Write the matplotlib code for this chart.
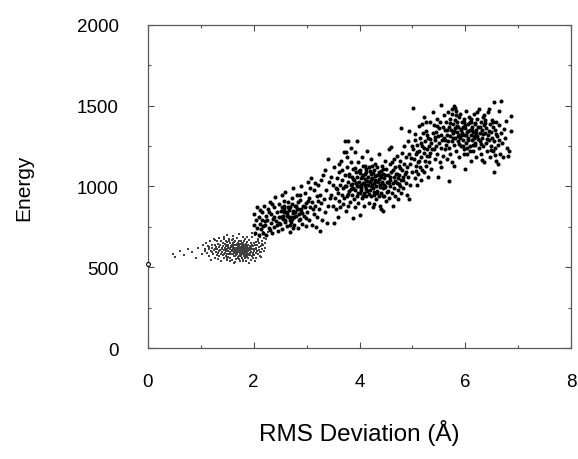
import matplotlib.pyplot as plt
from matplotlib.ticker import MultipleLocator

plt.rcParams['font.family'] = ['Liberation Sans', 'DejaVu Sans']

### 데이터 (RMS 편차, 에너지)

# 저에너지 구름 (작은 점)
low_cloud = [
    (0.47, 582), (0.52, 565), (0.61, 600), (0.68, 575), (0.75, 610), (0.83, 594), (0.90, 560),
    (0.95, 620), (1.02, 585), (1.05, 640),
    (1.08, 610), (1.10, 650), (1.12, 590), (1.13, 630), (1.15, 570), (1.16, 615), (1.18, 660),
    (1.19, 600), (1.20, 545), (1.21, 640), (1.22, 620), (1.23, 580), (1.24, 675), (1.25, 605),
    (1.26, 560), (1.27, 640), (1.28, 595), (1.29, 625), (1.30, 660), (1.30, 575),
    (1.31, 610), (1.32, 550), (1.32, 645), (1.33, 590), (1.34, 625), (1.35, 680), (1.35, 570),
    (1.36, 605), (1.37, 640), (1.38, 585), (1.38, 660), (1.39, 540), (1.40, 615), (1.40, 595),
    (1.41, 650), (1.42, 575), (1.42, 630), (1.43, 605), (1.44, 690), (1.44, 560), (1.45, 620),
    (1.45, 645), (1.46, 590), (1.46, 610), (1.47, 665), (1.47, 570), (1.48, 635), (1.48, 600),
    (1.49, 545), (1.49, 655), (1.50, 615), (1.50, 585), (1.50, 700), (1.51, 625), (1.51, 565),
    (1.52, 640), (1.52, 600), (1.53, 675), (1.53, 580), (1.54, 620),
    (1.55, 595), (1.55, 650), (1.56, 560), (1.56, 610), (1.57, 630), (1.57, 585), (1.58, 670),
    (1.58, 605), (1.59, 545), (1.59, 640), (1.60, 615), (1.60, 580), (1.60, 695), (1.61, 625),
    (1.61, 600), (1.62, 655), (1.62, 570), (1.63, 610), (1.63, 640), (1.64, 590), (1.64, 530),
    (1.65, 620), (1.65, 665), (1.65, 600), (1.66, 575), (1.66, 635), (1.67, 610), (1.67, 550),
    (1.68, 645), (1.68, 595), (1.68, 680), (1.69, 620), (1.69, 585), (1.70, 605), (1.70, 560),
    (1.70, 650), (1.71, 630), (1.71, 595), (1.72, 610), (1.72, 705), (1.72, 570), (1.73, 640),
    (1.73, 600), (1.74, 585), (1.74, 625), (1.74, 540), (1.75, 615), (1.75, 660), (1.75, 595),
    (1.76, 605), (1.76, 575), (1.77, 635), (1.77, 620), (1.77, 590), (1.78, 650), (1.78, 560),
    (1.78, 610), (1.79, 600), (1.79, 685), (1.79, 580), (1.80, 625), (1.80, 595), (1.80, 545),
    (1.81, 640), (1.81, 610), (1.81, 570), (1.82, 600), (1.82, 660), (1.82, 620), (1.83, 585),
    (1.83, 635), (1.83, 555), (1.84, 610), (1.84, 595), (1.84, 675), (1.85, 625), (1.85, 575),
    (1.85, 645), (1.86, 600), (1.86, 540), (1.86, 615), (1.87, 590), (1.87, 655), (1.87, 630),
    (1.88, 605), (1.88, 565), (1.88, 690), (1.89, 620), (1.89, 585), (1.90, 640), (1.90, 600),
    (1.90, 555), (1.91, 615), (1.91, 670), (1.92, 590), (1.92, 630), (1.93, 575), (1.93, 610),
    (1.94, 650), (1.94, 545),
    (1.95, 620), (1.95, 595), (1.96, 640), (1.96, 570), (1.97, 610), (1.97, 685), (1.98, 590),
    (1.98, 630), (1.99, 555), (1.99, 615), (2.00, 650), (2.00, 600), (2.01, 575), (2.02, 635),
    (2.02, 610), (2.03, 700), (2.04, 590), (2.04, 655), (2.05, 620), (2.05, 560), (2.06, 640),
    (2.07, 600), (2.08, 675), (2.08, 580), (2.09, 625), (2.10, 650), (2.10, 605), (2.11, 570),
    (2.12, 690), (2.13, 630), (2.14, 595), (2.15, 660), (2.16, 615), (2.17, 720), (2.18, 640),
    (2.19, 600), (2.20, 680), (2.22, 650), (2.24, 700), (2.27, 720),
    (1.732, 613), (1.684, 588), (1.816, 627), (1.757, 571), (1.643, 618), (1.869, 603),
    (1.791, 652), (1.712, 596), (1.838, 584), (1.664, 637), (1.903, 622), (1.748, 601),
    (1.627, 594), (1.786, 609), (1.853, 642), (1.695, 561), (1.773, 628), (1.921, 589),
    (1.604, 652), (1.829, 566), (1.741, 644), (1.677, 609), (1.886, 576), (1.809, 598),
    (1.719, 662), (1.958, 633), (1.587, 603), (1.764, 582), (1.847, 614), (1.653, 571),
    (1.797, 538), (1.702, 626), (1.937, 607), (1.568, 627), (1.879, 659), (1.723, 548),
    (1.617, 672), (1.994, 578), (2.048, 611), (2.117, 592), (2.083, 663), (2.161, 641),
    (2.207, 618), (2.026, 537), (1.481, 629), (1.436, 583), (1.527, 661), (1.392, 617),
    (1.348, 598), (1.273, 611), (1.214, 593), (1.156, 627), (1.079, 602), (1.493, 557),
    (1.552, 538), (1.429, 673), (2.239, 676), (2.196, 703), (2.143, 565), (1.962, 712),
    (1.907, 524), (1.618, 528), (1.325, 645), (1.268, 671),
]

# 구조 집단 A (RMS 2-3.5)
cluster_a = [
    (2.00, 760), (2.01, 830), (2.03, 715), (2.04, 790), (2.06, 745), (2.07, 870), (2.09, 700),
    (2.10, 810), (2.12, 765), (2.13, 735), (2.15, 845), (2.16, 790), (2.18, 715), (2.19, 880),
    (2.21, 760), (2.23, 820), (2.24, 700), (2.26, 790), (2.27, 860), (2.29, 740), (2.30, 905),
    (2.32, 775), (2.33, 830), (2.35, 715), (2.36, 800), (2.38, 870), (2.39, 750), (2.41, 935),
    (2.42, 785), (2.44, 840), (2.45, 725), (2.47, 810), (2.48, 890), (2.50, 765), (2.51, 850),
    (2.53, 945), (2.54, 735), (2.56, 820), (2.57, 880), (2.59, 790), (2.60, 965), (2.62, 755),
    (2.63, 845), (2.65, 905), (2.66, 810), (2.68, 720), (2.69, 870), (2.71, 780), (2.72, 930),
    (2.74, 835), (2.75, 990), (2.77, 760), (2.78, 880), (2.80, 815), (2.81, 950), (2.83, 740),
    (2.84, 860), (2.86, 795), (2.87, 915), (2.89, 845), (2.90, 1000), (2.92, 770), (2.93, 880),
    (2.95, 820), (2.96, 960), (2.98, 755), (2.99, 900), (3.01, 845), (3.02, 1030), (3.04, 790),
    (3.05, 930), (3.07, 870), (3.08, 1050), (3.10, 760), (3.11, 905), (3.13, 830), (3.14, 980),
    (3.16, 880), (3.17, 750), (3.19, 940), (3.20, 810), (3.22, 1010), (3.23, 860), (3.25, 725),
    (3.26, 950), (3.28, 895), (3.29, 790), (3.31, 1070), (3.32, 920), (3.34, 840), (3.35, 1100),
    (3.37, 980), (3.38, 775), (3.40, 880), (3.41, 1170), (3.43, 1030), (3.44, 930),
    (2.55, 800), (2.62, 830), (2.70, 810), (2.75, 850), (2.58, 860), (2.68, 790), (2.80, 880),
    (2.85, 830), (2.65, 870), (2.72, 800), (2.90, 860), (2.60, 780), (2.78, 845), (2.52, 810),
    (2.88, 800),
    (2.63, 817), (2.81, 862), (2.47, 773), (2.72, 891), (2.58, 842), (2.91, 834), (2.39, 812),
    (2.69, 763), (2.84, 903), (2.53, 876), (2.77, 812), (2.96, 871), (2.44, 759), (2.66, 853),
    (3.03, 912), (2.31, 731), (2.87, 948), (2.57, 913), (2.74, 742), (2.28, 843), (2.17, 758),
    (2.11, 852), (3.12, 862), (3.21, 911), (3.06, 988), (2.98, 802), (2.35, 889), (2.22, 785),
    (3.15, 1023), (3.27, 1040),
]

# 구조 집단 B (RMS 3.5-5.4)
cluster_b = [
    (3.46, 950), (3.47, 1060), (3.49, 880), (3.50, 1010), (3.51, 775), (3.52, 1120), (3.54, 930),
    (3.55, 990), (3.56, 860), (3.58, 1050), (3.59, 960), (3.60, 810), (3.61, 1090), (3.62, 910),
    (3.63, 1010), (3.64, 870), (3.65, 1160), (3.66, 950), (3.67, 1040), (3.68, 890), (3.69, 990),
    (3.70, 1213), (3.71, 930), (3.72, 1070), (3.73, 1282),
    (3.74, 850), (3.75, 1000), (3.75, 1213), (3.76, 940), (3.77, 1120), (3.78, 880), (3.79, 1282),
    (3.79, 1030), (3.80, 970), (3.81, 1080), (3.82, 905), (3.83, 1010), (3.84, 1150), (3.85, 950),
    (3.86, 1060), (3.87, 805), (3.87, 990), (3.88, 1110), (3.89, 920), (3.90, 1040), (3.91, 980),
    (3.92, 1213), (3.92, 870), (3.93, 1090), (3.94, 1020), (3.95, 940), (3.96, 1282), (3.96, 1060),
    (3.97, 1000), (3.98, 900), (3.98, 1150), (3.99, 1030), (4.00, 823), (4.00, 960), (4.01, 1100),
    (4.02, 1050), (4.03, 990), (4.04, 930), (4.05, 1180), (4.06, 1020),
    (4.07, 1070), (4.08, 960), (4.09, 880), (4.10, 1130), (4.10, 1000), (4.11, 1045), (4.12, 940),
    (4.13, 1090), (4.14, 1010), (4.15, 1220), (4.15, 970), (4.16, 1060), (4.17, 900), (4.18, 1120),
    (4.19, 1030), (4.20, 980), (4.21, 1080), (4.22, 940), (4.22, 1170), (4.23, 1010), (4.24, 1050),
    (4.25, 870), (4.26, 990), (4.27, 1100), (4.27, 891), (4.28, 950), (4.29, 1040), (4.30, 1140),
    (4.31, 1000), (4.32, 920), (4.33, 1070), (4.34, 970), (4.35, 1030), (4.36, 1200), (4.36, 940),
    (4.37, 1090), (4.38, 1010), (4.39, 880), (4.40, 860), (4.40, 1060), (4.41, 960), (4.42, 1130),
    (4.43, 1020), (4.44, 990), (4.45, 850), (4.45, 1080), (4.46, 940), (4.47, 1050), (4.48, 1160),
    (4.49, 1000), (4.50, 910), (4.51, 1110), (4.52, 1030), (4.53, 970), (4.54, 1070), (4.55, 1230),
    (4.56, 930), (4.57, 1040), (4.58, 1000), (4.59, 1244),
    (4.60, 1090), (4.61, 960), (4.62, 1150), (4.63, 1020), (4.64, 880), (4.65, 1060), (4.66, 990),
    (4.67, 1120), (4.68, 940), (4.69, 1080), (4.70, 1020), (4.71, 1190), (4.72, 922), (4.72, 1050),
    (4.73, 980), (4.74, 1130), (4.75, 1070), (4.76, 1000), (4.77, 1160), (4.78, 1362), (4.78, 1040),
    (4.79, 960), (4.80, 1100), (4.81, 1210), (4.82, 1060), (4.83, 990), (4.84, 1140), (4.85, 1250),
    (4.86, 1080), (4.87, 1020), (4.88, 1180), (4.89, 950), (4.90, 1120), (4.91, 1280), (4.92, 1060),
    (4.93, 1344), (4.93, 920), (4.94, 1200), (4.95, 1140), (4.96, 1010),
    (5.00, 1090), (5.01, 1230), (5.02, 1486), (5.03, 1170), (5.04, 1050), (5.05, 1290), (5.06, 1130),
    (5.07, 1200), (5.08, 1010), (5.09, 1260), (5.10, 1150), (5.11, 1080), (5.12, 1374), (5.13, 1220),
    (5.14, 1120), (5.15, 1300), (5.16, 1040), (5.17, 1180), (5.18, 1250), (5.19, 1100), (5.20, 1330),
    (5.21, 1090), (5.21, 1430), (5.22, 1210), (5.23, 1160), (5.24, 1280), (5.25, 1344), (5.26, 1130),
    (5.27, 1230), (5.28, 1190), (5.29, 1060), (5.30, 1300), (5.31, 1250), (5.32, 1150), (5.33, 1400),
    (5.34, 1210), (5.35, 1270), (5.36, 1110), (5.38, 1461), (5.39, 1330),
    (4.03, 1012), (4.27, 968), (3.88, 1047), (4.41, 1093), (4.15, 1031), (3.97, 962), (4.33, 1118),
    (4.22, 1004), (4.58, 1057), (3.83, 983), (4.11, 1076), (4.46, 1012), (4.07, 941), (4.36, 1049),
    (4.19, 1097), (3.93, 1024), (4.52, 967), (4.29, 1067), (4.01, 1083), (4.44, 941), (4.13, 987),
    (3.79, 951), (4.63, 1102), (4.24, 1128), (4.38, 996), (4.09, 1021), (3.91, 1112), (4.55, 1021),
    (4.31, 1036), (4.17, 952), (3.86, 1014), (4.48, 1072), (4.05, 1058), (4.26, 1084), (3.99, 1096),
    (4.42, 1028), (4.68, 1036), (4.12, 1109), (4.34, 958), (3.95, 1003), (4.21, 1043), (4.57, 1138),
    (4.03, 977), (4.39, 1074), (4.16, 1012), (3.81, 1066), (4.49, 997), (4.28, 1019), (4.06, 1125),
    (4.45, 1110), (3.72, 1003), (3.66, 1100), (3.58, 985), (3.77, 1180), (3.84, 1240), (3.62, 1140),
    (4.71, 1078), (4.77, 1112), (4.83, 1040), (4.88, 1089), (4.66, 1170), (4.74, 1015),
    (4.97, 1176), (5.08, 1212), (5.16, 1271), (5.04, 1326), (5.22, 1240), (5.28, 1318), (5.13, 1160),
    (5.34, 1296), (4.99, 1248), (5.19, 1385), (5.31, 1189), (5.06, 1098), (5.26, 1402), (5.37, 1232),
    (5.43, 1305), (5.47, 1372),
]

# 구조 집단 D (RMS 5.4-6.9)
cluster_d = [
    (5.40, 1230), (5.41, 1380), (5.42, 1290), (5.43, 1170), (5.44, 1340), (5.45, 1250), (5.46, 1420),
    (5.47, 1200), (5.48, 1310), (5.49, 1060), (5.50, 1360), (5.51, 1270), (5.52, 1150), (5.53, 1400),
    (5.54, 1121), (5.54, 1320), (5.55, 1505), (5.55, 1240), (5.56, 1290), (5.57, 1370), (5.58, 1190),
    (5.59, 1440), (5.60, 1300), (5.61, 1230), (5.62, 1350), (5.63, 1260), (5.64, 1400), (5.65, 1170),
    (5.66, 1320), (5.67, 1280), (5.68, 1460), (5.69, 1034), (5.69, 1370), (5.70, 1240),
    (5.71, 1310), (5.72, 1420), (5.72, 1200), (5.73, 1350), (5.74, 1280), (5.75, 1480), (5.75, 1150),
    (5.76, 1330), (5.77, 1390), (5.78, 1498), (5.78, 1127), (5.79, 1260), (5.80, 1360), (5.81, 1300),
    (5.82, 1440), (5.83, 1220), (5.84, 1340), (5.85, 1400), (5.86, 1280), (5.87, 1370), (5.88, 1320),
    (5.89, 1180), (5.90, 1450), (5.90, 1300), (5.91, 1350), (5.92, 1250), (5.93, 1400), (5.94, 1330),
    (5.95, 1290), (5.96, 1370), (5.97, 1230), (5.98, 1420), (5.99, 1108), (5.99, 1320), (6.00, 1360),
    (6.01, 1270), (6.02, 1470), (6.03, 1340), (6.04, 1200), (6.05, 1390), (6.06, 1300), (6.07, 1430),
    (6.08, 1250), (6.09, 1350), (6.10, 1320), (6.10, 1160),
    (6.11, 1400), (6.12, 1290), (6.13, 1370), (6.14, 1220), (6.15, 1340), (6.16, 1450), (6.17, 1300),
    (6.18, 1390), (6.19, 1260), (6.20, 1350), (6.21, 1180), (6.22, 1420), (6.23, 1310), (6.24, 1370),
    (6.25, 1240), (6.26, 1480), (6.27, 1330), (6.28, 1280), (6.29, 1400), (6.30, 1200), (6.31, 1350),
    (6.32, 1300), (6.33, 1430), (6.34, 1250), (6.35, 1380), (6.36, 1150), (6.37, 1330), (6.38, 1410),
    (6.39, 1270), (6.40, 1360), (6.41, 1220), (6.42, 1320), (6.43, 1460), (6.44, 1290), (6.45, 1480),
    (6.46, 1390), (6.47, 1180), (6.48, 1340), (6.49, 1250),
    (6.50, 1410), (6.51, 1300), (6.52, 1220), (6.53, 1370), (6.54, 1523), (6.54, 1090), (6.55, 1280),
    (6.56, 1350), (6.57, 1240), (6.58, 1400), (6.59, 1160), (6.60, 1310), (6.62, 1139), (6.62, 1260),
    (6.64, 1380), (6.66, 1200), (6.67, 1530), (6.68, 1330), (6.70, 1270), (6.72, 1180), (6.75, 1300),
    (6.78, 1240), (6.81, 1189), (6.82, 1220), (6.86, 1344), (6.86, 1436),
    (5.93, 1318), (6.12, 1352), (5.84, 1376), (6.05, 1287), (6.21, 1334), (5.97, 1401), (6.16, 1311),
    (5.88, 1262), (6.08, 1398), (5.79, 1342), (6.27, 1366), (6.02, 1321), (5.91, 1357), (6.18, 1272),
    (5.86, 1315), (6.11, 1421), (5.95, 1248), (6.24, 1297), (5.81, 1411), (6.06, 1346), (5.99, 1382),
    (6.14, 1257), (5.76, 1298), (6.33, 1322), (5.89, 1429), (6.03, 1237), (6.19, 1392), (5.83, 1468),
    (5.74, 1449), (5.71, 1391), (5.80, 1485), (6.29, 1262), (6.37, 1395), (6.41, 1292), (5.65, 1352),
    (5.62, 1288), (6.45, 1345), (6.52, 1402), (6.58, 1326), (6.63, 1290), (6.36, 1440), (6.22, 1460),
    (5.97, 1199), (6.09, 1220), (6.48, 1225), (6.56, 1195), (6.32, 1165), (6.73, 1355), (6.77, 1405),
    (6.64, 1465),
]

# 기준(native) 구조
native_rms = [0.0]
native_energy = [520]


### 시각화
fig = plt.figure(figsize=(5.78, 4.60), dpi=100)
ax = fig.add_axes([0.256, 0.2413, 0.732, 0.7022])

lx, ly = zip(*low_cloud)
ax.scatter(lx, ly, s=1.0, marker='s', color='0.25', linewidths=0)

big = cluster_a + cluster_b + cluster_d
bx, by = zip(*big)
ax.scatter(bx, by, s=8.5, color='black', linewidths=0)

ax.scatter(native_rms, native_energy, s=8, facecolors='white', edgecolors='black',
           linewidths=0.8, clip_on=False, zorder=5)

ax.set_xlim(0, 8)
ax.set_ylim(0, 2000)
ax.xaxis.set_major_locator(MultipleLocator(2))
ax.xaxis.set_minor_locator(MultipleLocator(1))
ax.yaxis.set_major_locator(MultipleLocator(500))
ax.yaxis.set_minor_locator(MultipleLocator(250))
ax.tick_params(which='both', direction='in', top=True, right=True, labelsize=13.5, width=0.8,
               color='0.3')
ax.tick_params(which='major', length=4)
ax.tick_params(which='minor', length=2.5)
ax.tick_params(axis='x', pad=18)
ax.tick_params(axis='y', pad=21)
for sp in ax.spines.values():
    sp.set_color('0.35')
    sp.set_linewidth(0.9)

ax.set_xlabel("RMS Deviation (Å)", fontsize=17.5, labelpad=21)
ax.set_ylabel("Energy", fontsize=15, labelpad=31)

plt.savefig("out.png")
plt.close()
